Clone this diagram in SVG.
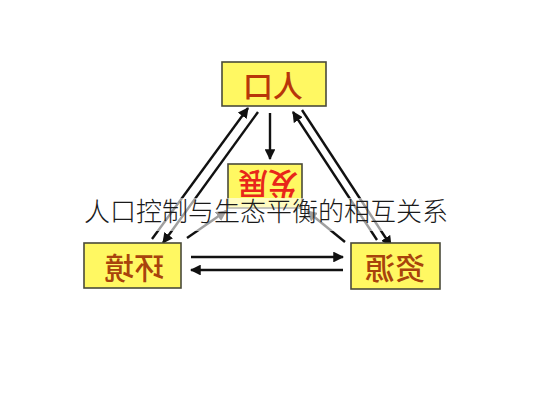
<svg xmlns="http://www.w3.org/2000/svg" width="533" height="400" viewBox="0 0 533 400">
<defs>
<style>
.box{fill:#FFF862;stroke:#4a4a3a;stroke-width:1.6}
.lbl{font-family:"Noto Sans CJK SC","Noto Sans CJK JP",sans-serif;font-weight:500;font-size:30px;text-anchor:middle;dominant-baseline:central}
.ar{stroke:#111;stroke-width:2.4;fill:none;marker-end:url(#ah)}
.title{font-family:"Noto Sans CJK SC","Noto Sans CJK JP",sans-serif;font-weight:300;font-size:26px;fill:#1a1a1a}
</style>
<marker id="ah" viewBox="0 0 10 10" refX="9" refY="5" markerWidth="4.5" markerHeight="4.5" orient="auto" markerUnits="strokeWidth">
<path d="M0,0 L10,5 L0,10 z" fill="#111"/>
</marker>
</defs>
<rect width="533" height="400" fill="#fff"/>
<g id="connectors">
<line class="ar" x1="270" y1="113" x2="270" y2="159"/>
<line class="ar" x1="152" y1="239" x2="248" y2="108"/>
<line class="ar" x1="258" y1="112" x2="163" y2="243"/>
<line class="ar" x1="187" y1="238" x2="226" y2="211"/>
<line class="ar" x1="345" y1="242" x2="307" y2="211"/>
<line class="ar" x1="377" y1="240" x2="293" y2="112"/>
<line class="ar" x1="302" y1="110" x2="391" y2="246"/>
<line class="ar" x1="191" y1="257" x2="343" y2="257"/>
<line class="ar" x1="343" y1="270" x2="191" y2="270"/>
</g>
<g id="node-renkou">
<rect class="box" x="222" y="62" width="104" height="44"/>
<text class="lbl" fill="#B8360A" transform="translate(273,84) scale(-1,1)">人口</text>
</g>
<g id="node-fazhan">
<rect class="box" x="228" y="164" width="74" height="44"/>
<text class="lbl" fill="#E8261A" transform="translate(268,186) rotate(180)">发展</text>
</g>
<g id="node-huanjing">
<rect class="box" x="84" y="243" width="97" height="45"/>
<text class="lbl" fill="#A8430C" transform="translate(134,266) scale(-1,1)">环境</text>
</g>
<g id="node-ziyuan">
<rect class="box" x="351" y="243" width="89" height="46"/>
<text class="lbl" fill="#A8430C" transform="translate(395,266) scale(-1,1)">资源</text>
</g>
<rect x="0" y="198" width="533" height="33" fill="#fff" opacity="0.6"/>
<text class="title" x="84" y="221">人口控制与生态平衡的相互关系</text>
</svg>
